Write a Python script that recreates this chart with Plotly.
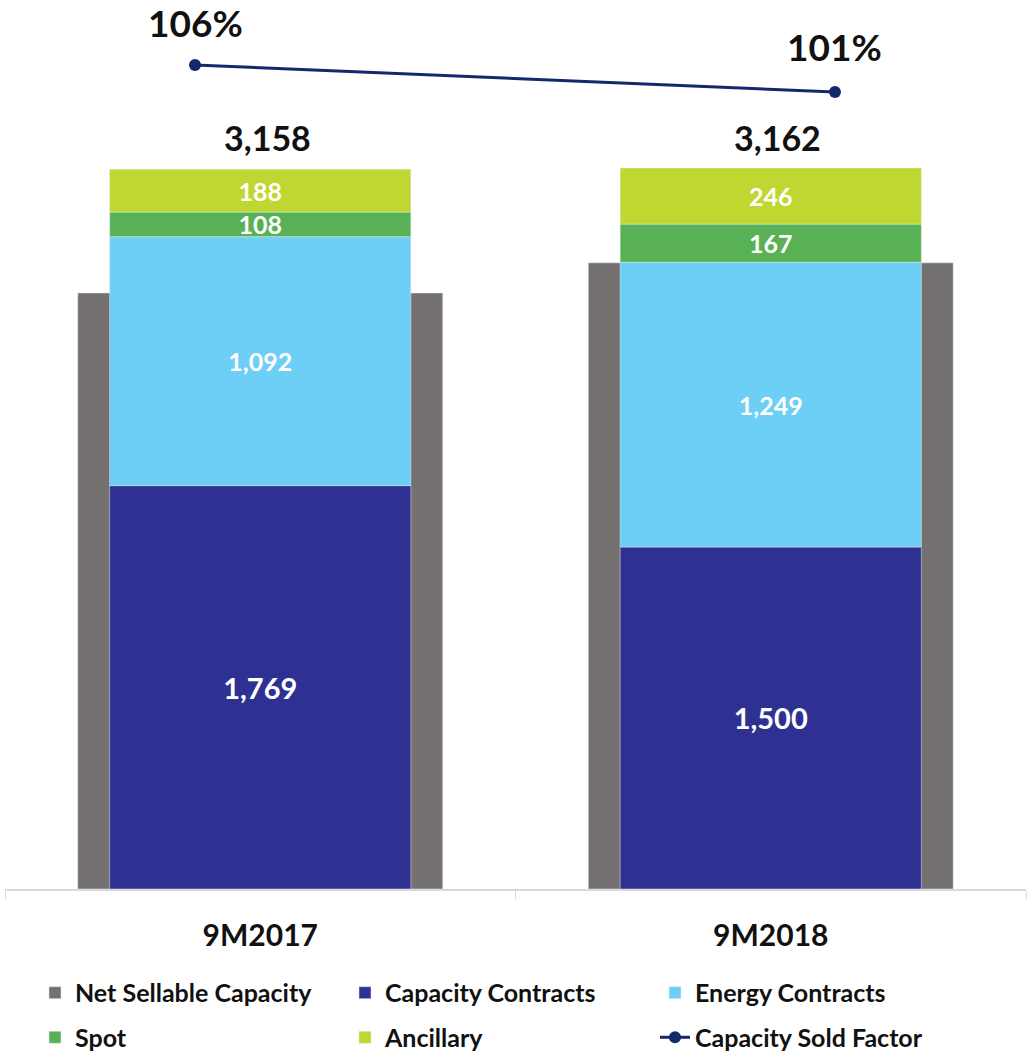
import plotly.graph_objects as go

# ==============================
# Data
# ==============================

periods = ["9M2017", "9M2018"]
net_sellable = [2614, 2746]
capacity_contracts = [1769, 1500]
energy_contracts = [1092, 1249]
spot = [108, 167]
ancillary = [188, 246]
totals = [3158, 3162]
sold_factor = [106, 101]

FONT = "Lato"
TXT = "#111111"

fig = go.Figure()

# grey background bar (not stacked)
fig.add_trace(go.Bar(
    x=periods, y=net_sellable, name="Net Sellable Capacity",
    marker_color="#767171", width=0.715, legend="legend",
    hoverinfo="skip",
))

# stacked segments, bases built from the data
stack = [
    ("Capacity Contracts", capacity_contracts, "#2E3192", 29, "legend"),
    ("Energy Contracts", energy_contracts, "#6DCFF6", 25, "legend"),
    ("Spot", spot, "#58B154", 25, "legend2"),
    ("Ancillary", ancillary, "#BFD730", 25, "legend2"),
]
base = [0] * len(periods)
for name, vals, color, fsize, lg in stack:
    fig.add_trace(go.Bar(
        x=periods, y=vals, base=list(base), name=name,
        marker_color=color, width=0.59, legend=lg,
        text=[f"{v:,}" for v in vals], textposition="inside",
        insidetextanchor="middle", textangle=0, constraintext="none",
        textfont=dict(family=FONT, size=fsize, color="white", weight="bold"),
        hoverinfo="skip",
    ))
    base = [b + v for b, v in zip(base, vals)]

# capacity sold factor line on secondary axes
fig.add_trace(go.Scatter(
    x=periods, y=sold_factor, name="Capacity Sold Factor",
    xaxis="x2", yaxis="y2", mode="lines+markers", legend="legend2",
    line=dict(color="#12296B", width=3), marker=dict(size=12, color="#12296B"),
    hoverinfo="skip",
))

# total labels above stacks
for p, t in zip(periods, totals):
    fig.add_annotation(x=p, y=t, xref="x", yref="y", text=f"{t:,}",
                       showarrow=False, yanchor="middle", yshift=31, xshift=7,
                       font=dict(family=FONT, size=34, color=TXT, weight="bold"))

# percentage labels above line points
for p, s, shift in zip(periods, sold_factor, [43, 46]):
    fig.add_annotation(x=p, y=s, xref="x2", yref="y2", text=f"{s}%",
                       showarrow=False, yanchor="middle", yshift=shift,
                       font=dict(family=FONT, size=37, color=TXT, weight="bold"))

legend_font = dict(family=FONT, size=25, color=TXT, weight="bold")

fig.update_layout(
    width=1029, height=1056,
    margin=dict(l=5, r=3, t=10, b=167),
    paper_bgcolor="white", plot_bgcolor="white",
    barmode="overlay",
    showlegend=True,
    legend=dict(orientation="h", xref="container", yref="container",
                x=0.034, y=0.0597, xanchor="left", yanchor="middle",
                entrywidth=265, traceorder="normal", font=legend_font,
                bgcolor="rgba(0,0,0,0)"),
    legend2=dict(orientation="h", xref="container", yref="container",
                 x=0.034, y=0.0175, xanchor="left", yanchor="middle",
                 entrywidth=265, traceorder="normal", font=legend_font,
                 bgcolor="rgba(0,0,0,0)"),
    xaxis=dict(type="category", tickson="boundaries", ticks="outside", ticklen=8,
               tickcolor="#D9D9D9", showline=True, linecolor="#D9D9D9", linewidth=1.5,
               showgrid=False, zeroline=False, ticklabelstandoff=19, automargin=False,
               tickfont=dict(family=FONT, size=30, color=TXT, weight="bold")),
    yaxis=dict(range=[0, 3855], visible=False, showgrid=False),
    xaxis2=dict(type="category", overlaying="x", range=[-0.2969, 1.2985], visible=False),
    yaxis2=dict(overlaying="y", range=[-46.6, 116.19], visible=False),
)

fig.write_html("out.html", config={"displayModeBar": False},
               post_script="document.body.style.margin='0';")
